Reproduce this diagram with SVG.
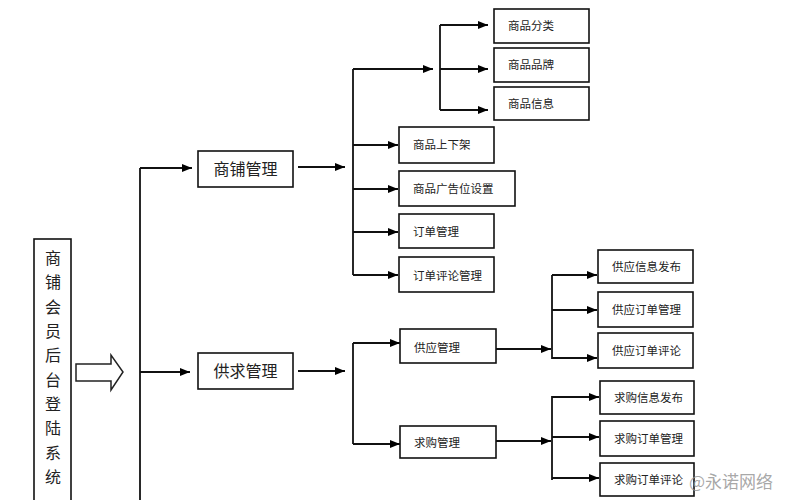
<svg xmlns="http://www.w3.org/2000/svg" width="789" height="500" viewBox="0 0 789 500">
<defs>
<marker id="ah" markerWidth="10" markerHeight="8" refX="10" refY="4" orient="auto" markerUnits="userSpaceOnUse">
<path d="M0,0 L10,4 L0,8 Z" fill="#000"/>
</marker>
<style>
.box{fill:#fff;stroke:#111;stroke-width:1.6}
.ln{fill:none;stroke:#111;stroke-width:1.8}
.ar{fill:none;stroke:#111;stroke-width:1.8;marker-end:url(#ah)}
.big{font-family:"Noto Sans CJK SC","Liberation Serif",serif;font-size:16px;fill:#222}
.sm{font-family:"Noto Sans CJK SC","Liberation Sans",sans-serif;font-size:11.5px;fill:#222}
.wm{font-family:"Noto Sans CJK SC",sans-serif;font-size:17px;fill:#999;fill-opacity:0.85}
</style>
</defs>
<rect width="789" height="500" fill="#fff"/>

<g id="root">
<rect class="box" x="34" y="239" width="37" height="270"/>
<g class="big" text-anchor="middle">
<text x="53" y="264">商</text>
<text x="53" y="288">铺</text>
<text x="53" y="313">会</text>
<text x="53" y="337">员</text>
<text x="53" y="361">后</text>
<text x="53" y="386">台</text>
<text x="53" y="410">登</text>
<text x="53" y="434">陆</text>
<text x="53" y="459">系</text>
<text x="53" y="483">统</text>
</g>
</g>

<g id="bigArrow">
<path d="M76,364 L111,364 L111,355 L123,372 L111,390 L111,381 L76,381 Z" fill="#fff" stroke="#222" stroke-width="1.5"/>
</g>

<g id="connectors">
<path class="ln" d="M140,168 L140,500"/>
<path class="ar" d="M140,168 L192,168"/>
<path class="ar" d="M140,372 L190,372"/>
<path class="ar" d="M298,167 L345,167"/>
<path class="ar" d="M298,371 L345,371"/>
<path class="ln" d="M353,69 L353,275"/>
<path class="ar" d="M353,69 L433,69"/>
<path class="ln" d="M440,25 L440,110"/>
<path class="ar" d="M440,25 L488,25"/>
<path class="ar" d="M440,69 L488,69"/>
<path class="ar" d="M440,110 L488,110"/>
<path class="ar" d="M353,145 L398,145"/>
<path class="ar" d="M353,189 L398,189"/>
<path class="ar" d="M353,232 L398,232"/>
<path class="ar" d="M353,275 L398,275"/>
<path class="ln" d="M353,343 L353,444"/>
<path class="ar" d="M353,343 L400,343"/>
<path class="ar" d="M353,444 L400,444"/>
<path class="ar" d="M496,349 L551,349"/>
<path class="ar" d="M496,441 L551,441"/>
<path class="ln" d="M552,275 L552,359"/>
<path class="ar" d="M552,275 L597,275"/>
<path class="ar" d="M552,310 L597,310"/>
<path class="ar" d="M552,358 L597,358"/>
<path class="ln" d="M552,396 L552,480"/>
<path class="ar" d="M552,397 L599,397"/>
<path class="ar" d="M552,437 L599,437"/>
<path class="ar" d="M552,478 L599,478"/>
</g>

<g id="shop">
<rect class="box" x="198" y="151" width="95" height="36"/>
<text class="big" x="245.5" y="175" text-anchor="middle">商铺管理</text>
</g>
<g id="supply-demand">
<rect class="box" x="198" y="353" width="95" height="36"/>
<text class="big" x="245.5" y="377" text-anchor="middle">供求管理</text>
</g>

<g id="n1"><rect class="box" x="494" y="9" width="95" height="34"/><text class="sm" x="508" y="30">商品分类</text></g>
<g id="n2"><rect class="box" x="494" y="48" width="95" height="34"/><text class="sm" x="508" y="69">商品品牌</text></g>
<g id="n3"><rect class="box" x="494" y="87" width="95" height="33"/><text class="sm" x="508" y="108">商品信息</text></g>
<g id="n4"><rect class="box" x="399" y="127" width="95" height="36"/><text class="sm" x="413" y="149">商品上下架</text></g>
<g id="n5"><rect class="box" x="399" y="171" width="116" height="35"/><text class="sm" x="413" y="193">商品广告位设置</text></g>
<g id="n6"><rect class="box" x="399" y="214" width="95" height="34"/><text class="sm" x="413" y="236">订单管理</text></g>
<g id="n7"><rect class="box" x="399" y="257" width="95" height="35"/><text class="sm" x="413" y="280">订单评论管理</text></g>
<g id="n8"><rect class="box" x="400" y="329" width="96" height="34"/><text class="sm" x="414" y="352">供应管理</text></g>
<g id="n9"><rect class="box" x="400" y="426" width="96" height="32"/><text class="sm" x="414" y="447">求购管理</text></g>
<g id="n10"><rect class="box" x="598" y="250" width="95" height="33"/><text class="sm" x="612" y="271">供应信息发布</text></g>
<g id="n11"><rect class="box" x="598" y="292" width="95" height="35"/><text class="sm" x="612" y="314">供应订单管理</text></g>
<g id="n12"><rect class="box" x="598" y="333" width="95" height="35"/><text class="sm" x="612" y="355">供应订单评论</text></g>
<g id="n13"><rect class="box" x="600" y="381" width="94" height="33"/><text class="sm" x="614" y="402">求购信息发布</text></g>
<g id="n14"><rect class="box" x="600" y="421" width="94" height="35"/><text class="sm" x="614" y="443">求购订单管理</text></g>
<g id="n15"><rect class="box" x="600" y="463" width="94" height="33"/><text class="sm" x="614" y="484">求购订单评论</text></g>

<text class="wm" x="689" y="488">@永诺网络</text>
</svg>
